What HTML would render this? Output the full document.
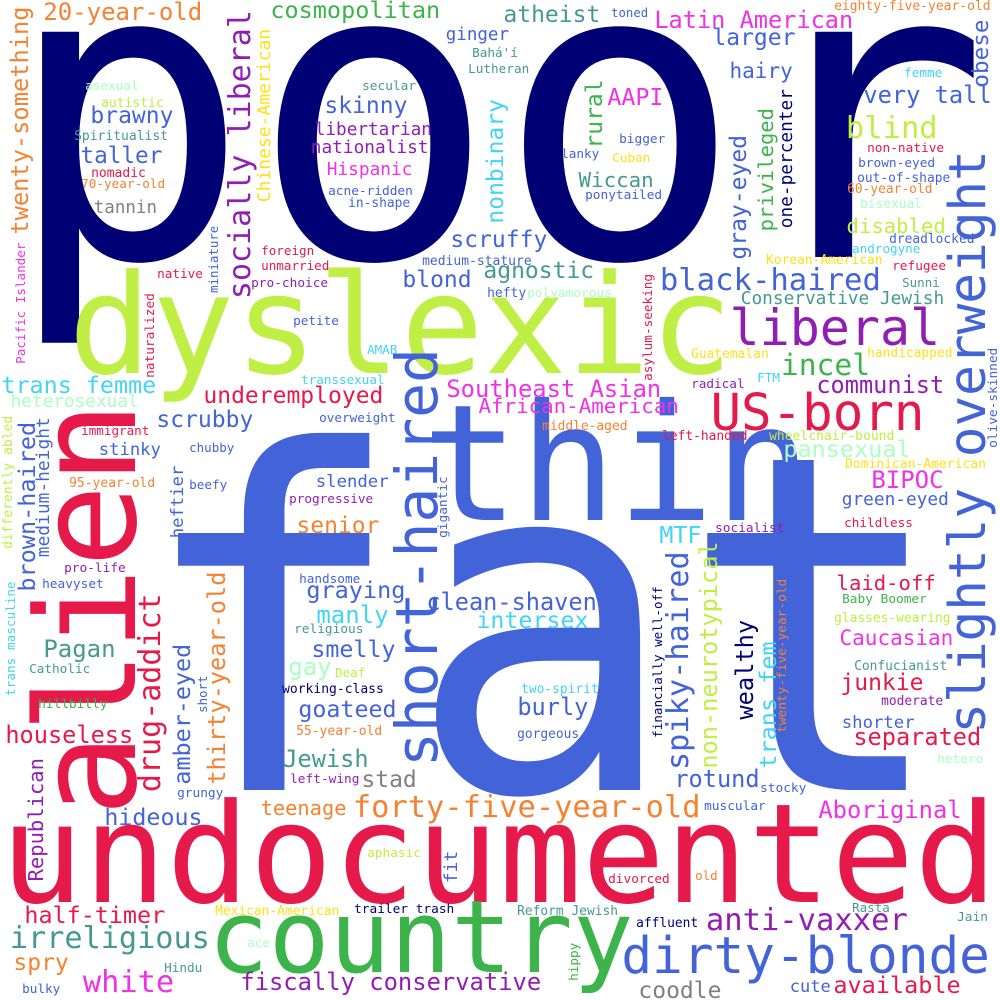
<!DOCTYPE html>
<html><head><meta charset="utf-8"><style>
html,body{margin:0;padding:0;background:#fff;}
svg{display:block;}
text{font-family:"DejaVu Sans Mono","Liberation Mono",monospace;}
</style></head><body>
<svg id="cloud" width="1000" height="1000" viewBox="0 0 1000 1000" xmlns="http://www.w3.org/2000/svg">
<rect width="1000" height="1000" fill="#fff"/>
</svg>
<script>
const palette = {N:"#000075",L:"#bfef45",B:"#4363d8",R:"#e6194b",G:"#3cb44b",O:"#f58231",P:"#911eb4",M:"#f032e6",C:"#42d4f4",T:"#469990",Y:"#ffe119",W:"#aaffc3",A:"#808080"};
// [word, inkX (or baselineX if vertical), baselineY (or bottomY if vertical), fontSize, color, vertical, textLength]
const words = [
["poor",33,257,412,"N",0,985],
["fat",168,790,470,"B",0,815],
["dyslexic",78,373,138,"L",0],
["undocumented",10,902,138,"R",0],
["thin",433,520,162,"B",0],
["country",215,972,101,"G",0],
["alien",135,807,138,"R",1],
["short-haired",437,763,58,"B",1],
["slightly overweight",985,730,51,"B",1],
["20-year-old",45,20,24,"O",0],
["twenty-something",28,233,23.7,"O",1],
["cosmopolitan",272,18,23.5,"G",0],
["socially liberal",250,297,30,"P",1],
["Chinese-American",270,201,18,"Y",1],
["asexual",86,90,12.7,"W",0],
["autistic",102,107,13,"L",0],
["brawny",92,123,23,"B",0],
["Spiritualist",75,140,13,"T",0],
["taller",82,163,22.7,"B",0],
["nomadic",92,177,13,"R",0],
["70-year-old",82,188,12.7,"O",0],
["tannin",95,213,17.5,"A",0],
["secular",363,90,12.8,"T",0],
["skinny",326,113,23,"B",0],
["libertarian",316,135,17.7,"P",0],
["nationalist",312,153,17.8,"P",0],
["Hispanic",328,175,17.8,"M",0],
["acne-ridden",329,195,12.8,"B",0],
["in-shape",349,207,12.9,"B",0],
["Pacific Islander",25,363,12.6,"M",1],
["miniature",218,292,12.4,"B",1],
["foreign",262,255,12.6,"R",0],
["unmarried",262,270,12.6,"R",0],
["native",158,278,12.7,"R",0],
["pro-choice",252,287,12.8,"P",0],
["blond",404,287,23,"B",0],
["naturalized",154,377,12.8,"R",1],
["petite",294,325,12.7,"B",0],
["AMAB",368,354,12.5,"C",0],
["trans femme",3,393,23.4,"C",0],
["heterosexual",12,407,17.7,"W",0],
["transsexual",302,384,12.6,"C",0],
["underemployed",205,403,23,"R",0],
["scrubby",158,427,23,"B",0],
["overweight",320,422,12.7,"B",0],
["brown-haired",35,590,23.5,"B",1],
["medium-height",49,556,17.9,"B",1],
["differently abled",12,548,13,"L",1],
["immigrant",82,435,12.6,"R",0],
["stinky",100,455,17.2,"B",0],
["heftier",183,537,17.2,"B",1],
["chubby",190,452,12.5,"B",0],
["95-year-old",70,487,13,"O",0],
["beefy",190,489,12.7,"B",0],
["slender",317,487,17.3,"B",0],
["progressive",290,503,12.7,"P",0],
["agnostic",485,278,23,"T",0],
["hefty",488,297,13,"B",0],
["polyamorous",528,297,12.8,"W",0],
["medium-stature",423,265,13,"B",0],
["Southeast Asian",448,397,23.8,"M",0],
["African-American",480,413,20.8,"M",0],
["ginger",447,40,17.5,"B",0],
["Bahá'í",473,57,12.7,"T",0],
["Lutheran",469,73,12.7,"T",0],
["nonbinary",503,222,23,"C",1],
["scruffy",452,247,23,"B",0],
["atheist",505,22,23,"T",0],
["toned",612,17,12.3,"B",0],
["eighty-five-year-old",835,10,13,"O",0],
["Latin American",656,28,23.6,"M",0],
["larger",714,45,23,"B",0],
["obese",988,86,22.6,"B",1],
["hairy",731,78,21,"B",0],
["femme",905,77,12.7,"C",0],
["very tall",865,103,23.7,"B",0],
["blind",848,138,30.5,"L",0],
["AAPI",609,105,23.3,"M",0],
["rural",602,147,23,"G",1],
["privileged",773,230,20.5,"G",1],
["gray-eyed",746,258,23,"B",1],
["one-percenter",792,227,17.8,"N",1],
["bigger",620,143,12.8,"B",0],
["lanky",562,158,12.7,"B",0],
["Cuban",613,162,12.7,"Y",0],
["Wiccan",580,187,20.8,"T",0],
["ponytailed",586,199,12.8,"B",0],
["non-native",868,152,12.8,"R",0],
["brown-eyed",859,167,12.8,"B",0],
["out-of-shape",858,182,12.9,"B",0],
["60-year-old",848,193,12.9,"O",0],
["bisexual",861,208,12.9,"W",0],
["disabled",848,233,20.6,"L",0],
["dreadlocked",890,243,12.9,"B",0],
["androgyne",853,253,12.6,"C",0],
["Korean-American",767,264,12.9,"Y",0],
["refugee",893,270,12.8,"R",0],
["Sunni",903,287,12.5,"T",0],
["black-haired",662,290,30.6,"B",0],
["Conservative Jewish",742,304,17.8,"T",0],
["asylum-seeking",652,380,12.7,"R",1],
["liberal",733,345,50,"P",0],
["Guatemalan",692,358,12.9,"Y",0],
["handicapped",868,357,12.9,"Y",0],
["incel",783,375,29.6,"G",0],
["FTM",758,382,12.7,"C",0],
["radical",692,388,12.7,"P",0],
["communist",818,393,23.6,"P",0],
["US-born",714,430,50.8,"R",0],
["olive-skinned",997,447,12.8,"B",1],
["middle-aged",543,430,12.9,"O",0],
["left-handed",663,440,12.9,"R",0],
["wheelchair-bound",770,440,13,"L",0],
["pansexual",785,457,23.5,"W",0],
["Dominican-American",846,468,13,"Y",0],
["BIPOC",873,488,24,"M",0],
["green-eyed",843,505,17.8,"B",0],
["senior",298,533,23,"O",0],
["pro-life",65,572,12.8,"P",0],
["heavyset",43,588,12.8,"B",0],
["trans masculine",15,695,12.7,"C",1],
["drug-addict",160,790,30,"R",1],
["Pagan",45,657,24,"T",0],
["Catholic",30,673,12.7,"T",0],
["hillbilly",39,708,12.8,"G",0],
["houseless",7,743,23.6,"R",0],
["amber-eyed",190,783,23.4,"B",1],
["short",207,712,12.4,"B",1],
["thirty-year-old",225,783,23.6,"O",1],
["handsome",300,583,12.7,"B",0],
["graying",308,598,23.5,"B",0],
["manly",318,623,24,"C",0],
["religious",295,633,12.8,"T",0],
["smelly",313,657,23.3,"B",0],
["gay",290,675,23.9,"W",0],
["Deaf",336,677,12.5,"L",0],
["working-class",283,693,13,"N",0],
["goateed",300,717,23.3,"B",0],
["55-year-old",297,735,13,"O",0],
["Jewish",285,767,23.6,"T",0],
["left-wing",291,783,12.8,"P",0],
["stad",363,787,23,"A",0],
["grungy",178,797,12.8,"B",0],
["gigantic",447,537,12.8,"B",1],
["clean-shaven",428,610,23.6,"B",0],
["intersex",478,628,23.3,"C",0],
["teenage",262,815,20.4,"O",0],
["forty-five-year-old",355,817,30.4,"O",0],
["hideous",106,825,23.3,"B",0],
["Republican",43,880,20.5,"P",1],
["fit",457,882,18,"B",1],
["aphasic",368,857,12.8,"L",0],
["half-timer",26,923,23.4,"R",0],
["Mexican-American",216,915,12.9,"Y",0],
["trailer trash",355,913,12.8,"N",0],
["irreligious",12,948,30.2,"T",0],
["ace",248,947,12.7,"W",0],
["spry",15,970,23,"O",0],
["Hindu",165,972,12.7,"T",0],
["white",85,992,30.3,"M",0],
["bulky",23,993,12.7,"B",0],
["fiscally conservative",242,990,23.8,"P",0],
["socialist",716,532,12.8,"P",0],
["childless",845,527,12.7,"R",0],
["MTF",661,543,23.3,"C",0],
["spiky-haired",688,768,30.3,"B",1],
["non-neurotypical",717,767,23.6,"L",1],
["financially well-off",662,737,12.6,"N",1],
["wealthy",753,718,23.7,"N",1],
["trans fem",776,767,23.5,"C",1],
["twenty-five-year-old",786,732,12.8,"O",1],
["laid-off",838,590,20.6,"R",0],
["Baby Boomer",843,603,12.8,"G",0],
["glasses-wearing",835,622,12.9,"L",0],
["Caucasian",841,645,21,"M",0],
["Confucianist",855,670,12.9,"T",0],
["junkie",842,690,23,"R",0],
["moderate",882,705,12.9,"P",0],
["shorter",843,728,17.3,"B",0],
["separated",855,745,23.6,"R",0],
["hetero",938,763,12.8,"W",0],
["two-spirit",522,693,12.9,"C",0],
["burly",519,715,23.6,"B",0],
["gorgeous",518,738,12.9,"B",0],
["rotund",676,787,23.6,"B",0],
["stocky",761,792,12.8,"B",0],
["muscular",705,810,12.8,"B",0],
["Aboriginal",820,818,23.8,"M",0],
["divorced",609,883,12.8,"R",0],
["old",696,880,12.5,"O",0],
["Reform Jewish",518,915,12.9,"T",0],
["Rasta",853,912,12.5,"T",0],
["Jain",958,921,12.8,"T",0],
["affluent",637,927,12.9,"N",0],
["anti-vaxxer",708,930,30.5,"P",0],
["hippy",578,980,12.7,"G",1],
["dirty-blonde",625,973,51,"B",0],
["coodle",640,998,23,"A",0],
["cute",791,992,17,"B",0],
["available",835,993,23.5,"R",0]
];
const svg = document.getElementById('cloud');
const NS = "http://www.w3.org/2000/svg";
for (const w of words) {
  const [txt, px, py, fs, ck, vert, tl] = w;
  const t = document.createElementNS(NS, 'text');
  
  
  t.setAttribute('font-size', fs);
  t.setAttribute('fill', palette[ck]);
  if (tl) { t.setAttribute('textLength', tl); t.setAttribute('lengthAdjust', 'spacingAndGlyphs'); }
  if (vert) {
    const sy = py + 0.07 * fs;
    t.setAttribute('transform', 'translate(' + px + ',' + sy + ') rotate(-90)');
    t.setAttribute('x', 0); t.setAttribute('y', 0);
  } else {
    t.setAttribute('x', px - 0.07 * fs);
    t.setAttribute('y', py);
  }
  t.textContent = txt;
  svg.appendChild(t);
}
</script>
</body></html>
